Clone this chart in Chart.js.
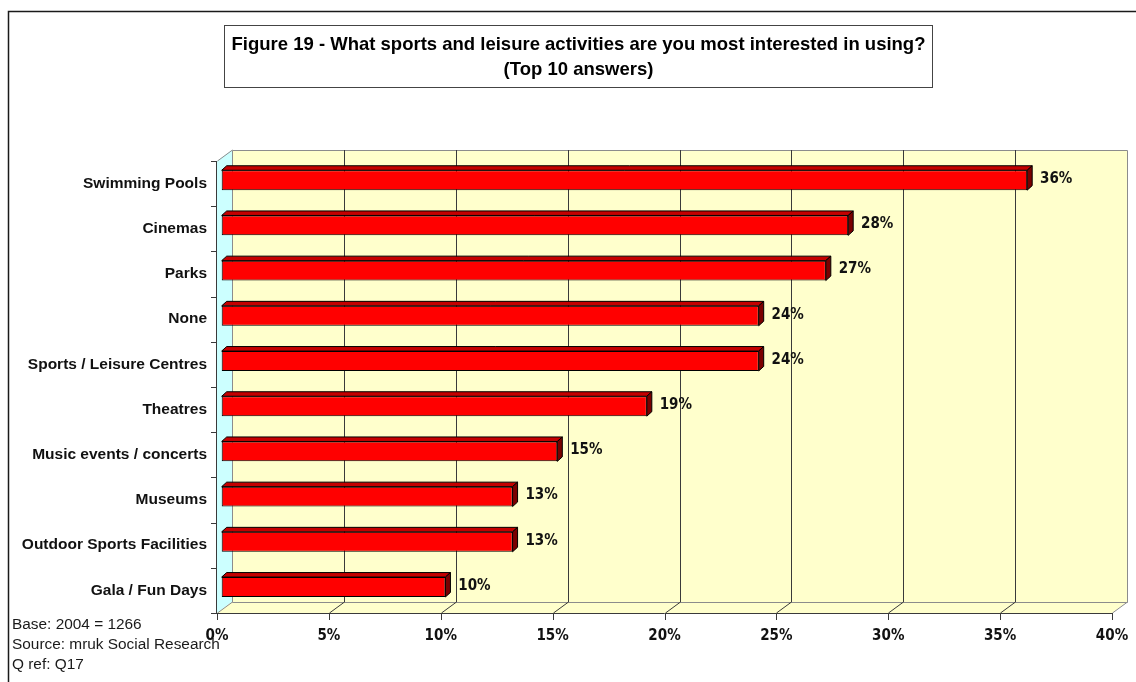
<!DOCTYPE html>
<html>
<head>
<meta charset="utf-8">
<title>Figure 19 - Sports and leisure interest</title>
<script src="https://cdn.jsdelivr.net/npm/chart.js@4"></script>
<style>
  html, body { margin: 0; padding: 0; background: #ffffff; }
  #wrap { width: 1136px; height: 682px; position: relative; }
</style>
</head>
<body>
<div id="wrap"><canvas id="chart"></canvas></div>
<script>
// ---- data ----
const categories = [
  'Swimming Pools', 'Cinemas', 'Parks', 'None', 'Sports / Leisure Centres',
  'Theatres', 'Music events / concerts', 'Museums', 'Outdoor Sports Facilities', 'Gala / Fun Days'
];
const shares = [36, 28, 27, 24, 24, 19, 15, 13, 13, 10];
const tickValues = [0, 5, 10, 15, 20, 25, 30, 35, 40];
const titleLines = [
  'Figure 19 - What sports and leisure activities are you most interested in using?',
  '(Top 10 answers)'
];
const footnotes = ['Base: 2004 = 1266', 'Source: mruk Social Research', 'Q ref: Q17'];

// ---- look ----
const WALL_DX = 15, WALL_DY = -11;      // depth of the 3-D box
const BAR_SHIFT_X = 4.7, BAR_SHIFT_Y = -3.4; // bars sit partway into the box
const BAR_DX = 5, BAR_DY = -4.5;        // depth of each bar
const WALL_FILL = '#FFFFCC';
const SIDE_FILL = '#CCFFFF';
const EDGE = '#8c8c8c';
const GRID = '#3a3a3a';
const NARROW = '"Liberation Sans Narrow", "Arial Narrow", "DejaVu Sans Condensed", sans-serif';
const SANS = '"Liberation Sans", Arial, sans-serif';

const box3d = {
  id: 'box3d',
  beforeDraw(chart) {
    const { ctx, chartArea: a, scales } = chart;
    const x = scales.x;
    ctx.save();
    ctx.fillStyle = '#ffffff';
    ctx.fillRect(0, 0, chart.width, chart.height);

    // outer frame (top and left edges)
    ctx.strokeStyle = '#1a1a1a';
    ctx.lineWidth = 1.5;
    ctx.beginPath();
    ctx.moveTo(8.5, chart.height);
    ctx.lineTo(8.5, 11.5);
    ctx.lineTo(chart.width, 11.5);
    ctx.stroke();

    // title box
    ctx.lineWidth = 1;
    ctx.strokeStyle = '#444444';
    ctx.fillStyle = '#ffffff';
    ctx.fillRect(224.5, 25.5, 708, 62);
    ctx.strokeRect(224.5, 25.5, 708, 62);
    ctx.fillStyle = '#000000';
    ctx.font = 'bold 18.5px ' + SANS;
    ctx.textAlign = 'center';
    ctx.textBaseline = 'middle';
    ctx.fillText(titleLines[0], 578.5, 45);
    ctx.fillText(titleLines[1], 578.5, 70);

    const L = a.left, R = a.right, T = a.top, B = a.bottom;
    // back wall
    ctx.fillStyle = WALL_FILL;
    ctx.fillRect(L + WALL_DX, T + WALL_DY, R - L, B - T);
    // side wall
    ctx.fillStyle = SIDE_FILL;
    ctx.beginPath();
    ctx.moveTo(L, T); ctx.lineTo(L + WALL_DX, T + WALL_DY);
    ctx.lineTo(L + WALL_DX, B + WALL_DY); ctx.lineTo(L, B);
    ctx.closePath(); ctx.fill();
    // floor
    ctx.fillStyle = WALL_FILL;
    ctx.beginPath();
    ctx.moveTo(L, B); ctx.lineTo(L + WALL_DX, B + WALL_DY);
    ctx.lineTo(R + WALL_DX, B + WALL_DY); ctx.lineTo(R, B);
    ctx.closePath(); ctx.fill();

    // wall edges
    ctx.strokeStyle = EDGE;
    ctx.lineWidth = 1;
    ctx.beginPath();
    ctx.rect(Math.round(L + WALL_DX) + 0.5, Math.round(T + WALL_DY) + 0.5, Math.round(R - L), Math.round(B - T));
    ctx.moveTo(L + 0.5, T); ctx.lineTo(L + WALL_DX + 0.5, T + WALL_DY);
    ctx.moveTo(L + 0.5, B); ctx.lineTo(L + WALL_DX + 0.5, B + WALL_DY);
    ctx.moveTo(R + 0.5, B); ctx.lineTo(R + WALL_DX + 0.5, B + WALL_DY);
    ctx.stroke();

    // value grid on the back wall and across the floor
    ctx.strokeStyle = GRID;
    ctx.beginPath();
    tickValues.forEach(v => {
      const px = Math.round(x.getPixelForValue(v)) + 0.5;
      if (v > x.min && v < x.max) {
        ctx.moveTo(px + WALL_DX, T + WALL_DY);
        ctx.lineTo(px + WALL_DX, B + WALL_DY);
        ctx.moveTo(px + WALL_DX, B + WALL_DY);
        ctx.lineTo(px, B);
      }
      // tick mark under the floor edge
      ctx.moveTo(px, B);
      ctx.lineTo(px, B + 7);
    });
    // front floor edge
    ctx.moveTo(L, Math.round(B) + 0.5);
    ctx.lineTo(R, Math.round(B) + 0.5);
    // category axis with marks between categories
    ctx.moveTo(Math.round(L) - 0.5, T);
    ctx.lineTo(Math.round(L) - 0.5, B);
    const step = (B - T) / categories.length;
    for (let i = 0; i <= categories.length; i++) {
      const py = Math.round(T + i * step) + 0.5;
      ctx.moveTo(L - 6, py);
      ctx.lineTo(L, py);
    }
    ctx.stroke();
    ctx.restore();
  },
  beforeDatasetsDraw(chart) {
    chart.ctx.save();
    chart.ctx.translate(BAR_SHIFT_X, BAR_SHIFT_Y);
  },
  afterDatasetsDraw(chart) {
    const ctx = chart.ctx;
    const meta = chart.getDatasetMeta(0);
    const values = chart.data.datasets[0].data;
    meta.data.forEach((bar, i) => {
      const p = bar.getProps(['x', 'y', 'base', 'height'], true);
      const left = Math.min(p.x, p.base), right = Math.max(p.x, p.base);
      const top = p.y - p.height / 2, bottom = p.y + p.height / 2;
      ctx.lineWidth = 1;
      ctx.strokeStyle = '#000000';
      // top face
      ctx.fillStyle = '#C40000';
      ctx.beginPath();
      ctx.moveTo(left, top); ctx.lineTo(left + BAR_DX, top + BAR_DY);
      ctx.lineTo(right + BAR_DX, top + BAR_DY); ctx.lineTo(right, top);
      ctx.closePath(); ctx.fill(); ctx.stroke();
      // end face
      ctx.fillStyle = '#7a0000';
      ctx.beginPath();
      ctx.moveTo(right, top); ctx.lineTo(right + BAR_DX, top + BAR_DY);
      ctx.lineTo(right + BAR_DX, bottom + BAR_DY); ctx.lineTo(right, bottom);
      ctx.closePath(); ctx.fill(); ctx.stroke();
      // value label
      ctx.fillStyle = '#111111';
      ctx.font = 'bold 15px ' + NARROW;
      ctx.textAlign = 'left';
      ctx.textBaseline = 'middle';
      ctx.fillText(values[i] + '%', right + 12.8, p.y - 1);
    });
    ctx.restore();
  },
  afterDraw(chart) {
    const ctx = chart.ctx;
    ctx.save();
    ctx.fillStyle = '#1a1a1a';
    ctx.font = '15.4px ' + SANS;
    ctx.textAlign = 'left';
    ctx.textBaseline = 'middle';
    footnotes.forEach((t, i) => ctx.fillText(t, 12, 625 + i * 20));
    ctx.restore();
  }
};

new Chart(document.getElementById('chart'), {
  type: 'bar',
  data: {
    labels: categories,
    datasets: [{
      data: shares,
      backgroundColor: '#FF0000',
      borderColor: '#000000',
      borderWidth: 1,
      borderSkipped: false,
      categoryPercentage: 1,
      barPercentage: 0.44,
      clip: false
    }]
  },
  options: {
    indexAxis: 'y',
    responsive: true,
    maintainAspectRatio: false,
    animation: false,
    layout: { padding: { left: 0, right: 24, top: 161, bottom: 0 } },
    plugins: { legend: { display: false }, title: { display: false }, tooltip: { enabled: false } },
    scales: {
      x: {
        type: 'linear',
        min: 0,
        max: 40,
        afterBuildTicks: s => { s.ticks = tickValues.map(v => ({ value: v })); },
        afterFit: s => { s.height = 69; s.paddingLeft = 0; s.paddingRight = 0; },
        grid: { display: false, drawTicks: false },
        border: { display: false },
        ticks: {
          padding: 14,
          maxRotation: 0,
          autoSkip: false,
          color: '#111111',
          font: { family: NARROW, size: 15, weight: 'bold' },
          callback: v => v + '%'
        }
      },
      y: {
        type: 'category',
        afterFit: s => { s.width = 217; s.paddingTop = 0; s.paddingBottom = 0; },
        grid: { display: false, drawTicks: false },
        border: { display: false },
        ticks: {
          padding: 10,
          autoSkip: false,
          color: '#111111',
          font: { family: SANS, size: 15.5, weight: 'bold' }
        }
      }
    }
  },
  plugins: [box3d]
});
</script>
</body>
</html>
